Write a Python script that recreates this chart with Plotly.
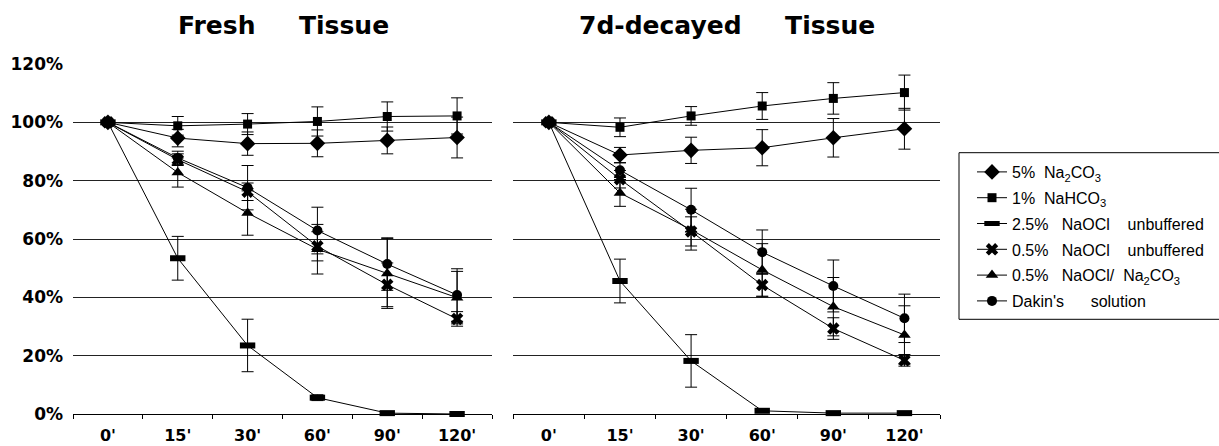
import plotly.graph_objects as go

categories = ["0'", "15'", "30'", "60'", "90'", "120'"]

series_names = [
    "5%\u00a0\u00a0Na<sub>2</sub>CO<sub>3</sub>",
    "1%\u00a0\u00a0NaHCO<sub>3</sub>",
    "2.5%\u00a0\u00a0\u00a0NaOCl\u00a0\u00a0\u00a0\u00a0unbuffered",
    "0.5%\u00a0\u00a0\u00a0NaOCl\u00a0\u00a0\u00a0\u00a0unbuffered",
    "0.5%\u00a0\u00a0\u00a0NaOCl/\u00a0\u00a0Na<sub>2</sub>CO<sub>3</sub>",
    "Dakin's\u00a0\u00a0\u00a0\u00a0\u00a0\u00a0solution",
]

# Fresh tissue (percent of initial weight)
fresh_na2co3 = [100, 94.6, 92.7, 92.8, 93.8, 94.8]
fresh_na2co3_err = [0.5, 3.0, 4.0, 4.6, 4.6, 7.0]
fresh_nahco3 = [100, 98.8, 99.4, 100.3, 102.0, 102.2]
fresh_nahco3_err = [0.5, 3.2, 3.6, 5.0, 5.0, 6.2]
fresh_naocl25 = [100, 53.4, 23.5, 5.6, 0.3, 0.0]
fresh_naocl25_err = [0.5, 7.5, 9.0, 1.0, 0.2, 0.1]
fresh_naocl05 = [100, 87.2, 76.2, 57.5, 44.3, 32.6]
fresh_naocl05_err = [0.5, 2.0, 3.0, 5.0, 7.5, 2.5]
fresh_naocl05_na2co3 = [100, 82.8, 68.9, 56.5, 48.2, 39.9]
fresh_naocl05_na2co3_err = [0.5, 5.0, 7.6, 8.5, 12.0, 9.0]
fresh_dakin = [100, 87.8, 77.6, 62.9, 51.4, 40.8]
fresh_dakin_err = [0.5, 2.3, 7.6, 8.0, 9.0, 9.0]

# 7d-decayed tissue
dec_na2co3 = [100, 88.8, 90.4, 91.3, 94.7, 97.8]
dec_na2co3_err = [0.5, 2.6, 4.5, 6.2, 6.6, 7.0]
dec_nahco3 = [100, 98.3, 102.2, 105.6, 108.2, 110.2]
dec_nahco3_err = [0.5, 3.2, 3.2, 4.6, 5.4, 6.0]
dec_naocl25 = [100, 45.6, 18.2, 1.1, 0.3, 0.3]
dec_naocl25_err = [0.5, 7.5, 9.0, 0.5, 0.2, 0.2]
dec_naocl05 = [100, 80.5, 62.6, 44.2, 29.3, 18.4]
dec_naocl05_err = [0.5, 3.0, 5.0, 4.0, 3.7, 2.0]
dec_naocl05_na2co3 = [100, 75.8, 63.2, 49.4, 36.8, 27.1]
dec_naocl05_na2co3_err = [0.5, 4.6, 7.0, 9.0, 10.0, 10.0]
dec_dakin = [100, 83.6, 70.0, 55.5, 43.9, 32.8]
dec_dakin_err = [0.5, 2.5, 7.4, 7.6, 8.9, 8.3]

y_ticks = [0, 20, 40, 60, 80, 100, 120]
y_tick_labels = ["0%", "20%", "40%", "60%", "80%", "100%", "120%"]

fresh = [
    (fresh_na2co3, fresh_na2co3_err),
    (fresh_nahco3, fresh_nahco3_err),
    (fresh_naocl25, fresh_naocl25_err),
    (fresh_naocl05, fresh_naocl05_err),
    (fresh_naocl05_na2co3, fresh_naocl05_na2co3_err),
    (fresh_dakin, fresh_dakin_err),
]
decayed = [
    (dec_na2co3, dec_na2co3_err),
    (dec_nahco3, dec_nahco3_err),
    (dec_naocl25, dec_naocl25_err),
    (dec_naocl05, dec_naocl05_err),
    (dec_naocl05_na2co3, dec_naocl05_na2co3_err),
    (dec_dakin, dec_dakin_err),
]

markers = [
    dict(symbol="diamond", size=12, color="black"),
    dict(symbol="square", size=9, color="black"),
    dict(symbol="line-ew", size=11, color="black", line=dict(width=6, color="black")),
    dict(symbol="x", size=11, color="black"),
    dict(symbol="triangle-up", size=11, color="black"),
    dict(symbol="circle", size=10, color="black"),
]

fig = go.Figure()
for panel, (xa, ya, data) in enumerate([("x", "y", fresh), ("x2", "y2", decayed)]):
    for i, (vals, errs) in enumerate(data):
        fig.add_trace(go.Scatter(
            x=categories, y=vals, xaxis=xa, yaxis=ya,
            mode="lines+markers",
            name=series_names[i],
            legendgroup="g%d" % i,
            showlegend=(panel == 0),
            line=dict(color="black", width=1),
            marker=markers[i],
            error_y=dict(type="data", array=errs, visible=True,
                         color="black", thickness=1, width=6),
            cliponaxis=False,
        ))

L, R, T, B = 73, 279, 64, 32
W, H = 1219, 446
pw = W - L - R
ph = H - T - B

def px_x(p):
    return (p - L) / pw

def px_y(p):
    return (H - B - p) / ph

axis_common = dict(
    type="category", range=[-0.5, 5.5], tickson="boundaries",
    ticks="outside", ticklen=4, tickcolor="black", tickwidth=1,
    showline=True, linecolor="black", linewidth=1, showgrid=False,
    tickfont=dict(family="DejaVu Sans", size=16, color="black", weight="bold"),
    ticklabelstandoff=7, automargin=False,
)
yaxis_common = dict(
    range=[0, 120], tickvals=y_ticks, ticktext=y_tick_labels,
    showgrid=True, gridcolor="#222", gridwidth=1, zeroline=False,
    showline=False, ticks="", automargin=False,
    tickfont=dict(family="DejaVu Sans", size=17, color="black", weight="bold"),
)

fig.update_layout(
    width=W, height=H,
    margin=dict(l=L, r=R, t=T, b=B, autoexpand=False),
    plot_bgcolor="white", paper_bgcolor="white",
    font=dict(family="DejaVu Sans", color="black"),
    xaxis=dict(domain=[0, px_x(492)], anchor="y", **axis_common),
    xaxis2=dict(domain=[px_x(513.3), 1], anchor="y2", **axis_common),
    yaxis=dict(anchor="x", ticklabelstandoff=9, **yaxis_common),
    yaxis2=dict(anchor="x2", matches="y", showticklabels=False, **yaxis_common),
    showlegend=True,
    legend=dict(
        x=px_x(972), y=px_y(155), xanchor="left", yanchor="top",
        bgcolor="rgba(0,0,0,0)", borderwidth=0,
        font=dict(family="Liberation Sans", size=16, color="black"),
        traceorder="grouped", tracegroupgap=2,
    ),
    shapes=[dict(
        type="rect", xref="paper", yref="paper",
        x0=px_x(959), x1=px_x(1250), y0=px_y(319.3), y1=px_y(152.7),
        line=dict(color="black", width=1), fillcolor="rgba(0,0,0,0)",
    )],
    annotations=[
        dict(text="Fresh\u00a0\u00a0\u00a0\u00a0\u00a0Tissue", xref="paper", yref="paper",
             x=px_x(283), y=px_y(25), xanchor="center", yanchor="middle",
             showarrow=False,
             font=dict(family="DejaVu Sans", size=25, color="black", weight="bold")),
        dict(text="7d-decayed\u00a0\u00a0\u00a0\u00a0\u00a0Tissue", xref="paper", yref="paper",
             x=px_x(726.6), y=px_y(25), xanchor="center", yanchor="middle",
             showarrow=False,
             font=dict(family="DejaVu Sans", size=25, color="black", weight="bold")),
    ],
)

fig.write_html(
    "out.html",
    config={"displayModeBar": False},
    post_script="document.body.style.margin='0';document.body.style.overflow='hidden';",
)
